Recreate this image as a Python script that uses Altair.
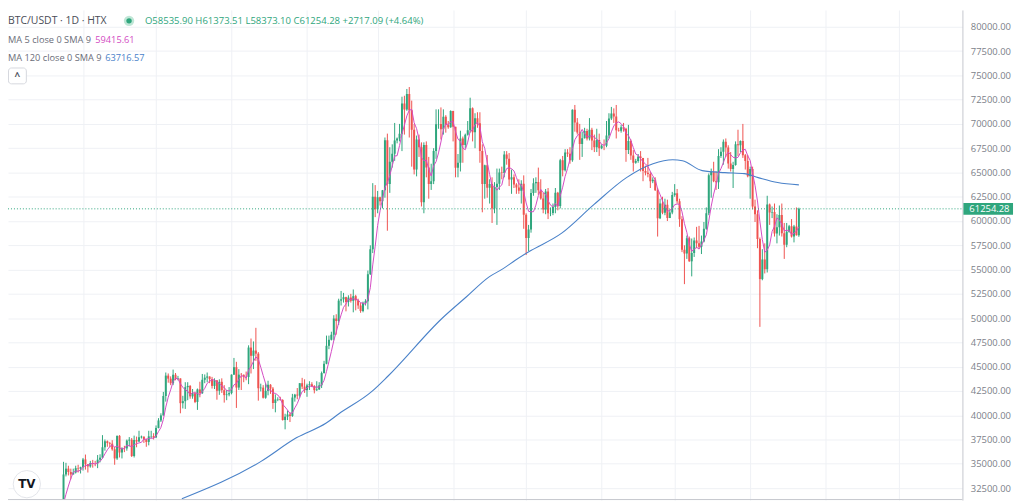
import altair as alt
import pandas as pd

# ---------------- data (prices in thousands of USDT) ----------------
# 5 days before the visible window (they sit below the visible price range)
PRE_CLOSE = [28.7, 29.7, 29.9, 30.0, 31.0]
PRE_HIGH = [28.9, 30.2, 30.3, 30.2, 31.3]
PRE_LOW = [28.2, 28.6, 29.5, 29.7, 29.9]
FIRST_OPEN = 28.3
LAST_OPEN = 58.5359

CLOSE_OCT = [33.9, 34.5, 34.15, 33.9, 34.1, 34.55, 34.5, 34.65]
HIGH_OCT = [35.2, 35.1, 34.8, 34.5, 34.5, 34.8, 34.9, 34.7]
LOW_OCT = [30.9, 33.7, 33.8, 33.4, 33.9, 34.0, 34.1, 34.0]

CLOSE_NOV = [35.45, 34.95, 34.73, 35.08, 35.05, 35.04, 35.42, 35.63, 36.7, 37.32,
             37.14, 37.07, 36.49, 35.55, 37.88, 36.16, 36.6, 36.58, 37.39, 37.48,
             35.8, 37.45, 37.29, 37.72, 37.8, 37.48, 37.25, 37.83, 37.86, 37.72]
HIGH_NOV = [35.6, 35.95, 34.95, 35.3, 35.4, 35.3, 35.9, 35.98, 37.95, 37.5,
            37.4, 37.25, 37.43, 36.75, 37.9, 37.95, 36.7, 36.85, 37.5, 37.75,
            37.65, 37.9, 37.8, 38.4, 37.9, 37.8, 37.6, 38.4, 38.4, 38.15]
LOW_NOV = [34.3, 34.4, 34.1, 34.6, 34.6, 34.75, 34.55, 35.15, 35.55, 36.35,
           36.75, 36.7, 36.35, 34.9, 35.4, 35.65, 35.55, 36.2, 36.35, 36.8,
           35.7, 35.65, 36.7, 37.25, 37.6, 37.15, 36.75, 36.9, 37.6, 37.5]

CLOSE_DEC = [38.69, 39.46, 39.98, 41.98, 44.08, 43.77, 43.29, 44.17, 43.72, 43.79,
             41.24, 41.45, 42.89, 43.02, 41.94, 42.26, 41.37, 42.66, 42.27, 43.65,
             43.87, 43.99, 43.72, 43.02, 43.6, 42.52, 43.44, 42.58, 42.07, 42.14, 42.28]
HIGH_DEC = [38.95, 39.7, 40.2, 42.4, 44.4, 44.3, 44.0, 44.7, 44.35, 44.05,
            43.8, 42.0, 43.4, 43.4, 43.1, 42.7, 42.43, 42.75, 43.45, 44.25,
            44.2, 44.4, 44.0, 43.95, 43.8, 43.6, 43.7, 43.8, 43.1, 42.6, 42.9]
LOW_DEC = [37.65, 38.65, 39.3, 39.95, 41.4, 43.35, 43.1, 43.1, 43.6, 43.6,
           40.2, 40.7, 40.65, 41.55, 41.7, 41.7, 41.25, 40.55, 41.85, 42.2,
           43.3, 43.4, 43.3, 42.75, 42.7, 41.6, 42.1, 42.3, 41.3, 41.55, 41.95]

CLOSE_JAN = [44.18, 44.95, 42.85, 44.18, 44.16, 43.97, 43.93, 46.97, 46.12, 46.66,
             46.34, 42.78, 42.84, 41.8, 42.51, 43.14, 42.74, 41.26, 41.62, 41.66,
             41.57, 39.51, 39.85, 40.08, 39.93, 41.82, 42.12, 42.03, 43.3, 42.95, 42.58]
HIGH_JAN = [44.2, 45.9, 45.5, 44.75, 44.35, 44.2, 44.5, 47.2, 47.9, 47.6,
            49.0, 46.5, 43.25, 43.1, 43.3, 43.55, 43.2, 42.9, 42.15, 41.85,
            41.9, 41.65, 40.15, 40.5, 40.3, 42.2, 42.2, 42.8, 43.3, 43.85, 43.7]
LOW_JAN = [42.15, 44.15, 40.75, 42.6, 42.6, 43.4, 43.6, 43.2, 44.3, 44.75,
           45.6, 41.5, 42.45, 41.72, 41.7, 42.05, 42.2, 40.65, 40.3, 41.45,
           41.5, 39.45, 38.55, 39.5, 39.3, 39.83, 41.4, 41.65, 41.8, 42.7, 42.3]

CLOSE_FEB = [43.08, 43.19, 43.0, 42.58, 42.66, 43.08, 44.34, 45.3, 47.15, 47.77,
             48.29, 49.96, 49.7, 51.8, 51.94, 52.16, 51.66, 52.12, 51.78, 52.26,
             51.84, 51.3, 50.73, 51.57, 51.73, 54.52, 57.09, 62.5, 61.2]
HIGH_FEB = [43.25, 43.5, 43.4, 43.1, 43.5, 43.4, 44.5, 45.6, 48.2, 48.2,
            48.6, 50.3, 50.4, 52.0, 52.8, 52.6, 52.2, 52.35, 52.5, 52.95,
            52.4, 52.0, 51.55, 51.7, 51.95, 54.9, 57.5, 63.9, 63.7]
LOW_FEB = [41.9, 42.6, 42.9, 42.25, 42.5, 42.6, 42.8, 44.3, 45.25, 46.8,
           47.7, 47.7, 48.3, 49.3, 51.3, 51.6, 50.7, 51.2, 51.6, 50.6,
           50.8, 50.95, 50.55, 50.6, 51.3, 50.9, 54.45, 56.7, 60.4]

CLOSE_MAR = [62.44, 62.03, 63.17, 68.33, 63.8, 66.11, 66.93, 68.3, 68.5, 69.0,
             72.1, 71.48, 73.08, 71.4, 69.4, 65.3, 68.39, 67.6, 61.93, 67.84,
             65.5, 63.8, 64.1, 67.2, 69.96, 69.99, 69.45, 70.74, 69.89, 69.65, 71.33]
HIGH_MAR = [63.1, 62.5, 63.2, 68.6, 69.0, 67.6, 67.9, 70.1, 68.6, 70.0,
            72.8, 72.9, 73.6, 73.8, 72.4, 70.0, 68.8, 68.9, 68.1, 68.1,
            68.2, 66.6, 65.9, 67.5, 71.5, 71.5, 71.7, 71.5, 70.9, 70.3, 71.4]
LOW_MAR = [60.8, 61.6, 61.3, 62.4, 59.0, 62.9, 65.5, 66.2, 68.0, 68.2,
           67.2, 68.9, 71.35, 68.6, 65.6, 64.8, 64.6, 66.6, 61.5, 60.8,
           64.5, 62.3, 63.2, 63.8, 66.4, 69.5, 68.4, 68.9, 69.1, 69.5, 69.6]

CLOSE_APR = [69.7, 65.49, 65.99, 68.5, 67.84, 68.89, 69.36, 71.62, 69.15, 70.59,
             70.06, 67.2, 63.8, 65.74, 63.42, 63.81, 61.28, 63.51, 63.84, 64.99,
             64.94, 66.84, 66.41, 64.28, 64.5, 63.77, 63.46, 63.12, 63.84, 60.64]
HIGH_APR = [71.35, 69.7, 66.9, 69.3, 68.7, 69.0, 70.3, 72.7, 71.7, 71.1,
            71.2, 71.2, 67.9, 65.8, 66.8, 64.3, 64.5, 64.0, 65.4, 65.4,
            65.6, 67.2, 67.2, 67.0, 65.3, 64.8, 63.9, 64.3, 64.2, 64.7]
LOW_APR = [68.2, 64.5, 64.5, 65.1, 66.0, 67.5, 68.8, 69.1, 68.2, 67.5,
           69.6, 66.0, 60.9, 62.3, 62.4, 61.8, 59.8, 60.8, 59.6, 63.2,
           64.3, 64.5, 65.8, 63.6, 62.8, 63.4, 62.8, 62.8, 61.8, 59.2]

CLOSE_MAY = [58.25, 59.12, 62.89, 63.89, 64.03, 63.16, 62.33, 61.19, 63.05, 60.79,
             60.82, 61.45, 62.9, 61.55, 66.27, 65.23, 67.05, 66.94, 66.27, 71.45,
             70.14, 69.12, 67.93, 68.53, 69.27, 68.5, 69.4, 68.3, 67.6, 68.35, 67.5]
HIGH_MAY = [60.8, 59.6, 63.3, 64.4, 64.5, 65.5, 64.3, 62.9, 63.3, 63.4,
            61.4, 61.8, 63.4, 63.0, 66.4, 66.7, 67.4, 67.4, 67.6, 71.5,
            71.95, 70.6, 70.0, 69.2, 69.6, 69.5, 70.6, 69.6, 68.9, 69.5, 69.0]
LOW_MAY = [56.5, 56.9, 58.8, 62.6, 62.9, 62.7, 62.2, 60.8, 60.7, 60.2,
           60.5, 60.6, 60.8, 61.1, 61.3, 64.6, 65.1, 66.6, 65.9, 66.1,
           69.2, 68.9, 66.3, 66.6, 68.5, 68.3, 68.3, 67.3, 67.1, 67.1, 66.7]

CLOSE_JUN = [67.76, 67.75, 68.8, 70.56, 71.08, 70.76, 69.35, 69.3, 69.65, 69.5,
             67.32, 68.24, 66.75, 66.01, 66.19, 66.64, 66.49, 65.14, 64.96, 64.83,
             64.1, 64.25, 63.18, 60.28, 61.8, 60.86, 61.67, 60.32, 60.89, 62.68]
HIGH_JUN = [67.9, 68.4, 70.3, 71.1, 71.75, 71.6, 71.95, 69.6, 69.9, 70.1,
            69.6, 69.9, 68.4, 67.3, 66.4, 66.9, 67.2, 66.5, 65.7, 66.5,
            65.1, 64.5, 64.5, 63.4, 62.3, 62.5, 62.3, 62.2, 61.2, 63.0]
LOW_JUN = [67.4, 67.3, 67.6, 68.5, 70.4, 70.1, 68.5, 69.2, 69.1, 69.2,
           66.1, 66.9, 66.3, 65.1, 65.9, 66.0, 65.1, 64.1, 64.7, 64.5,
           63.4, 63.9, 63.1, 58.4, 60.2, 60.7, 60.6, 60.0, 60.3, 60.7]

CLOSE_JUL = [62.85, 62.03, 60.17, 57.03, 56.66, 58.23, 55.85, 56.7, 58.0, 57.7,
             57.34, 57.89, 59.2, 60.8, 64.72, 65.04, 64.09, 63.99, 66.69, 67.14,
             68.17, 67.56, 65.93, 65.37, 65.78, 67.91, 67.8, 68.25, 66.78, 66.19, 64.62]
HIGH_JUL = [63.8, 63.3, 62.3, 60.5, 57.5, 58.5, 58.4, 58.2, 58.3, 59.4,
            59.5, 58.5, 59.9, 61.4, 64.9, 65.4, 66.1, 65.1, 67.4, 67.6,
            68.4, 68.5, 67.8, 67.1, 66.1, 68.2, 69.4, 68.3, 70.0, 66.9, 66.8]
LOW_JUL = [62.5, 61.8, 59.4, 56.8, 53.5, 56.1, 55.8, 54.3, 56.3, 57.2,
           57.1, 56.6, 57.8, 59.1, 60.6, 62.4, 64.0, 63.2, 63.3, 66.5,
           65.8, 66.6, 65.4, 65.1, 63.4, 65.7, 66.7, 67.1, 66.5, 65.3, 64.5]

CLOSE_AUG = [65.35, 61.5, 60.7, 58.16, 54.02, 56.04, 55.03, 61.71, 60.88, 60.94,
             58.71, 59.35, 60.61, 58.74, 57.56, 58.9, 59.45, 58.4, 59.4365, 58.53719,
             61.25428]
HIGH_AUG = [65.6, 65.6, 62.2, 61.1, 58.3, 57.1, 57.7, 62.6, 61.8, 61.5,
            61.8, 60.7, 61.6, 61.8, 59.8, 59.8, 59.6, 60.2, 59.6, 61.4,
            61.37351]
LOW_AUG = [62.3, 61.2, 59.9, 57.2, 49.1, 53.9, 54.6, 54.7, 59.6, 60.3,
           58.4, 57.7, 58.5, 58.4, 56.1, 57.3, 58.8, 58.3, 57.8, 58.5,
           58.3731]

# MA 120 line (day index, thousands)
MA120_DAY = [48.6, 80.8, 95.8, 107.9, 113.1, 126.4, 133.3, 155.4, 165.5, 174.8,
             180.4, 185.7, 190.9, 204.6, 217.9, 231.2, 242.1, 250.2, 254.2, 262.3,
             271.6, 279.6, 285.3, 293.3, 302.0]
MA120_VAL = [31.40, 35.20, 37.70, 39.20, 40.15, 42.40, 44.04, 49.96, 52.20, 54.25,
             55.07, 55.99, 56.81, 58.75, 61.71, 64.47, 65.90, 66.31, 66.21, 65.19,
             64.98, 64.88, 64.47, 63.96, 63.72]

MONTH_START_DAY = [8, 38, 69, 100, 129, 160, 190, 221, 251, 282, 313, 343]
Y_TICKS = [32500 + 2500 * i for i in range(20)]

TITLE = "BTC/USDT · 1D · HTX"
OHLC_TEXT = "O58535.90 H61373.51 L58373.10 C61254.28 +2717.09 (+4.64%)"
MA5_NAME, MA5_VALUE = "MA 5 close 0 SMA 9", "59415.61"
MA120_NAME, MA120_VALUE = "MA 120 close 0 SMA 9", "63716.57"

# ---------------- build tables ----------------
CLOSE = PRE_CLOSE + CLOSE_OCT + CLOSE_NOV + CLOSE_DEC + CLOSE_JAN + CLOSE_FEB + CLOSE_MAR + CLOSE_APR + CLOSE_MAY + CLOSE_JUN + CLOSE_JUL + CLOSE_AUG
HIGH = PRE_HIGH + HIGH_OCT + HIGH_NOV + HIGH_DEC + HIGH_JAN + HIGH_FEB + HIGH_MAR + HIGH_APR + HIGH_MAY + HIGH_JUN + HIGH_JUL + HIGH_AUG
LOW = PRE_LOW + LOW_OCT + LOW_NOV + LOW_DEC + LOW_JAN + LOW_FEB + LOW_MAR + LOW_APR + LOW_MAY + LOW_JUN + LOW_JUL + LOW_AUG
OPEN = [FIRST_OPEN] + CLOSE[:-2] + [LAST_OPEN]
N = len(CLOSE)

df = pd.DataFrame({
    "d": list(range(-len(PRE_CLOSE), N - len(PRE_CLOSE))),
    "open": [v * 1000 for v in OPEN],
    "high": [v * 1000 for v in HIGH],
    "low": [v * 1000 for v in LOW],
    "close": [v * 1000 for v in CLOSE],
})
ma120 = pd.DataFrame({"d": MA120_DAY, "ma120": [v * 1000 for v in MA120_VAL]})
one = pd.DataFrame({"k": [0]})
LAST = CLOSE[-1] * 1000

# ---------------- style ----------------
FONT = "Open Sans"
UP = "#2fa67d"
DOWN = "#ef5350"
MA5_COLOR = "#d34bc3"
MA120_COLOR = "#4a82c9"
GRID = "#eff1f5"
BORDER = "#c5c7cd"
W, H = 962, 494

xs = alt.Scale(domain=[-51.5 / 2.48, (W - 51.5) / 2.48], nice=False, zero=False)
ys = alt.Scale(domain=[80000 - (8 + H - 25) * 102.17, 80000 + 17 * 102.17], nice=False, zero=False)

x_axis = alt.Axis(values=MONTH_START_DAY, grid=True, gridColor=GRID, labels=False,
                  ticks=False, domain=False, title=None)
y_axis = alt.Axis(orient="right", values=Y_TICKS, format=".2f", grid=True, gridColor=GRID,
                  ticks=False, domain=True, domainColor=BORDER, labelFont=FONT,
                  labelFontSize=9.5, labelColor="#7c7f8a", labelPadding=8,
                  labelOverlap=False, labelFlush=False, title=None)


def X(field):
    return alt.X(field, scale=xs, axis=x_axis, title=None)


def Y(field):
    return alt.Y(field, scale=ys, axis=y_axis, title=None)


updown = alt.condition(alt.datum.close >= alt.datum.open, alt.value(UP), alt.value(DOWN))

wicks = alt.Chart(df).mark_rule(strokeWidth=1, clip=True).encode(
    x=X("d:Q"), y=Y("low:Q"), y2="high:Q", color=updown,
)
bodies = alt.Chart(df).mark_bar(size=2, clip=True).encode(
    x=X("d:Q"), y=Y("open:Q"), y2="close:Q", color=updown,
)
ma5_line = alt.Chart(df).transform_window(
    ma5="mean(close)", frame=[-4, 0], sort=[alt.SortField("d")]
).mark_line(color=MA5_COLOR, strokeWidth=1, clip=True).encode(
    x=X("d:Q"), y=Y("ma5:Q"),
)
ma120_line = alt.Chart(ma120).mark_line(color=MA120_COLOR, strokeWidth=1.1, clip=True,
                                        interpolate="monotone").encode(
    x=X("d:Q"), y=Y("ma120:Q"),
)
price_rule = alt.Chart(one).mark_rule(color=UP, strokeWidth=1, strokeDash=[1, 2]).encode(
    y=alt.Y(datum=LAST, scale=ys, axis=y_axis, title=None), x=alt.value(0), x2=alt.value(W)
)
price_box = alt.Chart(one).mark_rect(color=UP, yOffset=-6, y2Offset=6).encode(
    y=alt.Y(datum=LAST, scale=ys, axis=y_axis, title=None), y2=alt.Y2(datum=LAST),
    x=alt.value(W + 1), x2=alt.value(W + 51)
)
price_text = alt.Chart(one).mark_text(text=f"{LAST:.2f}", color="white", font=FONT,
                                      fontSize=9.5, align="left", baseline="middle").encode(
    y=alt.Y(datum=LAST, scale=ys, axis=y_axis, title=None), x=alt.value(W + 7)
)
bottom_border = alt.Chart(one).mark_rule(color=BORDER, strokeWidth=1).encode(
    x=alt.value(0), x2=alt.value(W), y=alt.value(H - 0.5)
)


def label(txt, x, y, size, color, weight="normal", align="left", font=FONT):
    return alt.Chart(one).mark_text(text=txt, align=align, baseline="middle", fontSize=size,
                                    color=color, font=font, fontWeight=weight).encode(
        x=alt.value(x), y=alt.value(y))


dot_halo = alt.Chart(one).mark_point(filled=True, shape="circle", size=110, color="#bfe6d6",
                                     opacity=1).encode(x=alt.value(122), y=alt.value(11))
dot = alt.Chart(one).mark_point(filled=True, shape="circle", size=30, color=UP,
                                opacity=1).encode(x=alt.value(122), y=alt.value(11))
button = alt.Chart(one).mark_rect(fill="white", stroke="#d6d8de", strokeWidth=1,
                                  cornerRadius=3).encode(
    x=alt.value(0.5), x2=alt.value(18.5), y=alt.value(58.5), y2=alt.value(74.5))
logo_circle = alt.Chart(one).mark_point(filled=True, shape="circle", size=760, color="white",
                                        stroke="#e3e5ea", strokeWidth=1, opacity=1).encode(
    x=alt.value(19), y=alt.value(478))

layers = [
    wicks, bodies, ma120_line, ma5_line, price_rule, price_box, price_text, bottom_border,
    label(TITLE, 0, 11, 10.5, "#4a4d57"),
    dot_halo, dot,
    label(OHLC_TEXT, 138, 11, 9.6, UP),
    label(MA5_NAME, 0, 30, 9.3, "#6a6d78"),
    label(MA5_VALUE, 88, 30, 9.3, MA5_COLOR),
    label(MA120_NAME, 0, 48, 9.3, "#6a6d78"),
    label(MA120_VALUE, 98, 48, 9.3, MA120_COLOR),
    button,
    label("^", 9.5, 68, 10, "#50535e", weight="bold", align="center"),
    logo_circle,
    label("TV", 19, 478, 12, "#131722", weight="bold", align="center", font="DejaVu Sans"),
]

chart = alt.layer(*layers).properties(
    width=W, height=H,
    padding={"left": 0, "top": 0, "right": 54, "bottom": 0},
    autosize=alt.AutoSizeParams(type="none"),
    background="white",
).configure_view(stroke=None)

chart.save("out.html", embed_options={"renderer": "svg", "actions": False})
